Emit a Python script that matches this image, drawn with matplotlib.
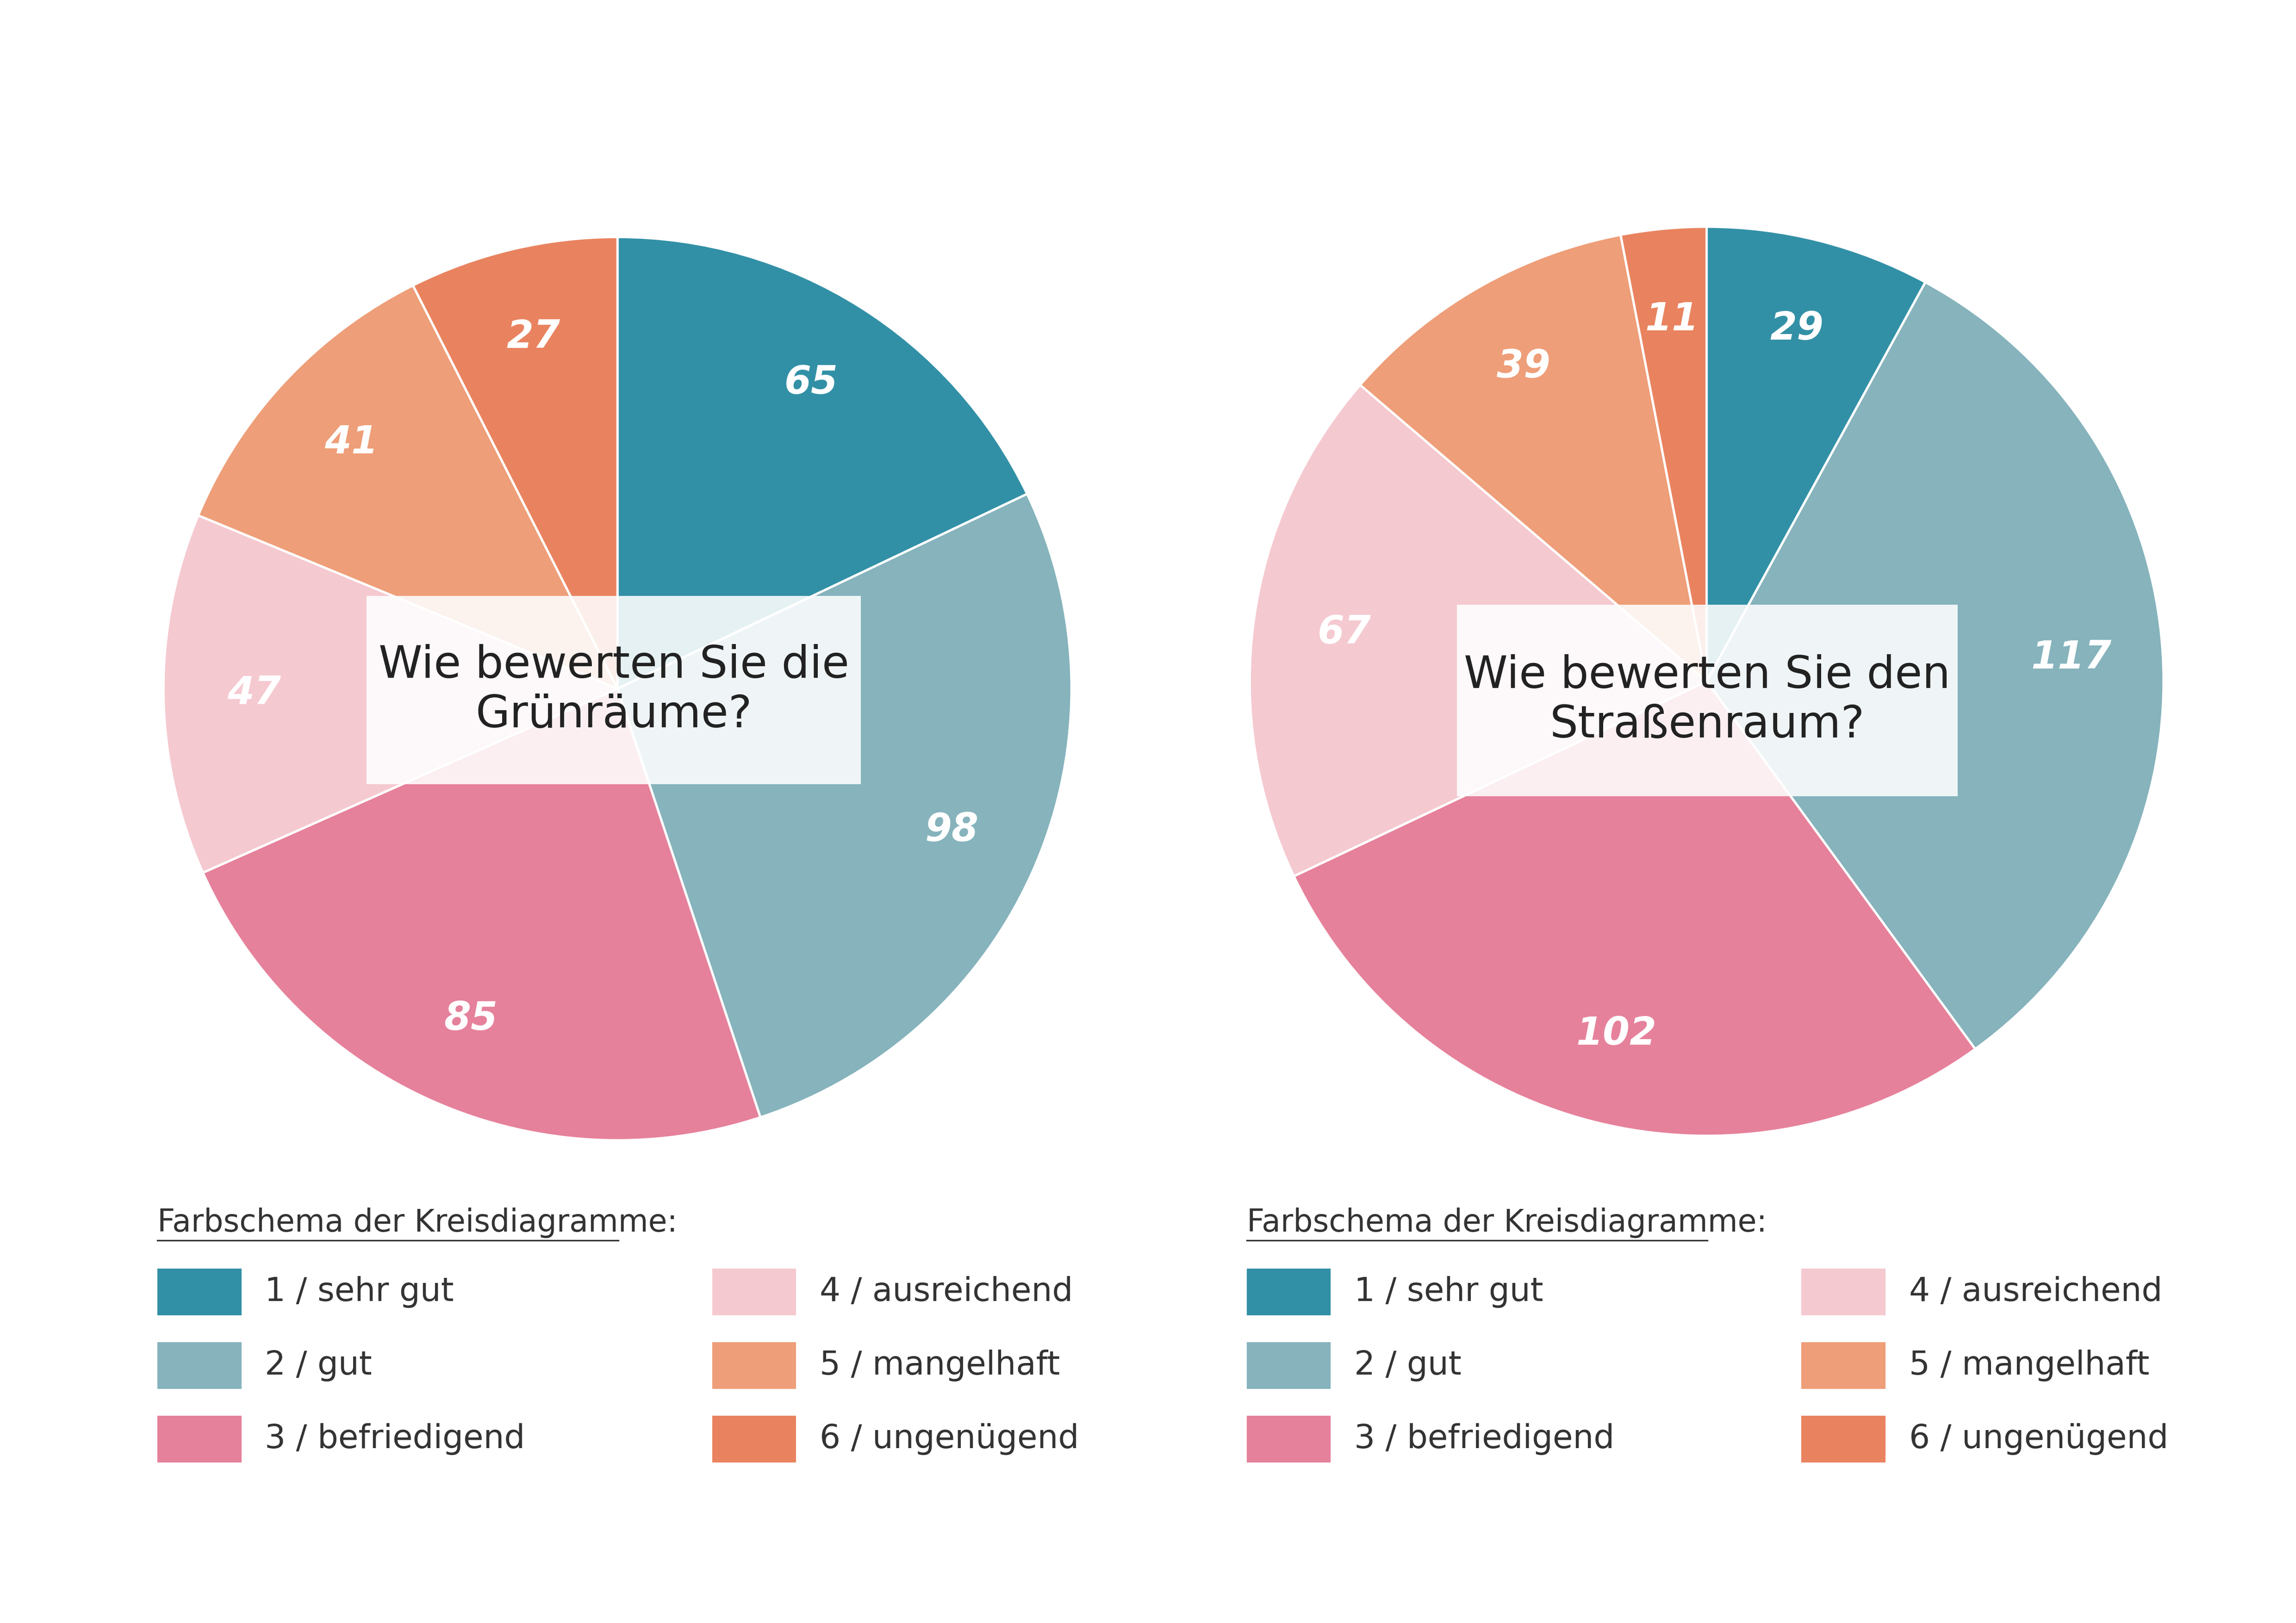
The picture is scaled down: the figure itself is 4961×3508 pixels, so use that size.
import matplotlib.pyplot as plt
from matplotlib.patches import Rectangle

# data
categories = ['1 / sehr gut', '2 / gut', '3 / befriedigend',
              '4 / ausreichend', '5 / mangelhaft', '6 / ungenügend']
gruen = [65, 98, 85, 47, 41, 27]
strasse = [29, 117, 102, 67, 39, 11]
questions = ['Wie bewerten Sie die\nGrünräume?', 'Wie bewerten Sie den\nStraßenraum?']
colors = ['#3290A6', '#86B3BC', '#E6819B', '#F5C9D0', '#EE9E78', '#E9835F']

FONT = ['Liberation Sans Narrow', 'DejaVu Sans']
W, H = 1560.0, 1103.0

fig = plt.figure(figsize=(4961 / 300, 3508 / 300), dpi=300)

def fx(x): return x / W
def fy(y): return 1 - y / H

def draw(values, question, cx, cy, r, box, lx):
    ax = fig.add_axes([fx(cx - r), fy(cy + r), 2 * r / W, 2 * r / H])
    wedges, texts = ax.pie(values, colors=colors, startangle=90, counterclock=False,
                           labels=[str(v) for v in values], labeldistance=0.8,
                           wedgeprops=dict(edgecolor='white', linewidth=1.2),
                           textprops=dict(color='white', fontsize=20, fontweight='bold',
                                          style='italic', family=FONT))
    for t in texts:
        t.set_ha('center'); t.set_va('center')
    ax.set_xlim(-1.01, 1.0)
    ax.set_ylim(-1.01, 1.01)
    ax.set_aspect('auto')
    ax.axis('off')
    # question box
    x0, y0, x1, y1 = box
    fig.patches.append(Rectangle((fx(x0), fy(y1)), (x1 - x0) / W, (y1 - y0) / H,
                                 transform=fig.transFigure, facecolor='white',
                                 alpha=0.88, edgecolor='none', zorder=5))
    fig.text(fx((x0 + x1) / 2), fy((y0 + y1) / 2), question, ha='center', va='center',
             fontsize=23, family=FONT, color='#222222', zorder=6, linespacing=1.2)
    # legend
    t = fig.text(fx(lx), fy(831), 'Farbschema der Kreisdiagramme:', ha='left', va='center',
                 fontsize=16, family=FONT, color='#333333')
    fig.add_artist(plt.Line2D([fx(lx), fx(lx + 313)], [fy(843), fy(843)], color='#333333', lw=0.8))
    for i, cat in enumerate(categories):
        col, row = divmod(i, 3)
        sx = lx + col * 377
        sy = 878 + row * 50
        fig.patches.append(Rectangle((fx(sx), fy(sy + 16)), 57 / W, 32 / H,
                                     transform=fig.transFigure, facecolor=colors[i], edgecolor='none'))
        fig.text(fx(sx + 73), fy(sy), cat, ha='left', va='center', fontsize=17,
                 family=FONT, color='#333333')

draw(gruen, questions[0], 418, 468, 310, (249, 405, 585, 533), 107)
draw(strasse, questions[1], 1158, 463, 312, (990, 411, 1330, 541), 847)

fig.savefig('out.png', dpi=300, facecolor='white')
